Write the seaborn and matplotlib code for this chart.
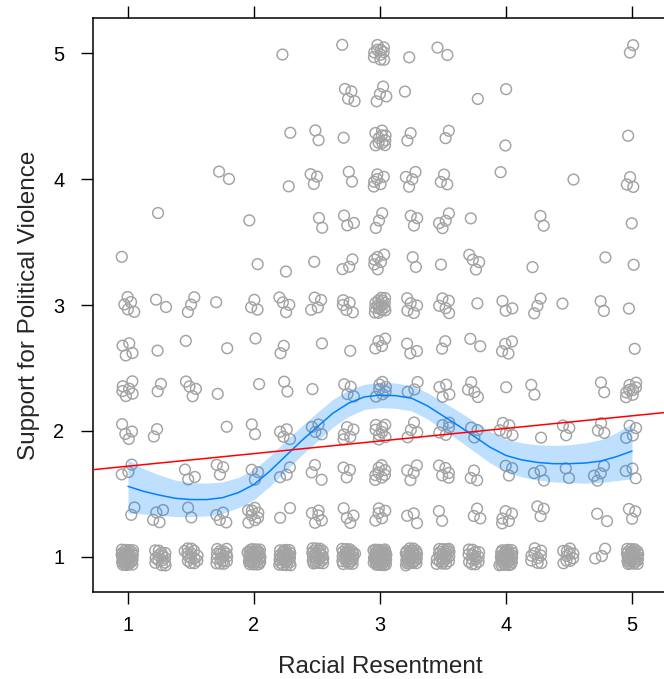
import numpy as np
import pandas as pd
import matplotlib
matplotlib.use("Agg")
import matplotlib.pyplot as plt
import seaborn as sns

# ---------------- data ----------------
# Racial resentment levels (x) and support-for-violence levels (y)
x_levels = [1.0, 1.25, 1.5, 1.75, 2.0, 2.25, 2.5, 2.75, 3.0,
            3.25, 3.5, 3.75, 4.0, 4.25, 4.5, 4.75, 5.0]
y_levels = [1.0, 4/3, 5/3, 2.0, 7/3, 8/3, 3.0, 10/3, 11/3, 4.0, 13/3, 14/3, 5.0]

# number of respondents at each x level, one list per y level
count_y_1_00 = [30, 14, 14, 16, 30, 26, 22, 24, 40, 26, 22, 14, 30, 9, 10, 3, 26]
count_y_1_33 = [2, 4, 2, 4, 8, 2, 5, 4, 5, 3, 2, 3, 5, 3, 0, 2, 3]
count_y_1_67 = [3, 0, 3, 3, 3, 3, 3, 3, 8, 4, 5, 3, 3, 3, 2, 4, 3]
count_y_2_00 = [4, 2, 0, 1, 2, 4, 4, 5, 8, 4, 5, 3, 5, 1, 3, 3, 4]
count_y_2_33 = [6, 2, 4, 1, 1, 2, 1, 4, 7, 3, 4, 4, 1, 2, 0, 2, 8]
count_y_2_67 = [4, 1, 1, 1, 1, 2, 1, 1, 4, 3, 2, 2, 4, 0, 0, 0, 1]
count_y_3_00 = [5, 2, 3, 1, 3, 4, 4, 5, 15, 5, 5, 1, 3, 3, 1, 2, 1]
count_y_3_33 = [1, 0, 0, 0, 1, 1, 1, 3, 6, 2, 1, 4, 0, 1, 0, 1, 1]
count_y_3_67 = [0, 1, 0, 0, 1, 0, 2, 3, 3, 3, 4, 1, 0, 2, 0, 0, 1]
count_y_4_00 = [0, 0, 0, 2, 0, 1, 3, 2, 6, 4, 3, 0, 1, 0, 1, 0, 3]
count_y_4_33 = [0, 0, 0, 0, 0, 1, 2, 1, 10, 2, 2, 0, 1, 0, 0, 0, 1]
count_y_4_67 = [0, 0, 0, 0, 0, 0, 0, 4, 4, 1, 0, 1, 1, 0, 0, 0, 0]
count_y_5_00 = [0, 0, 0, 0, 0, 1, 0, 1, 10, 1, 2, 0, 0, 0, 0, 0, 2]

count_rows = [count_y_1_00, count_y_1_33, count_y_1_67, count_y_2_00,
              count_y_2_33, count_y_2_67, count_y_3_00, count_y_3_33,
              count_y_3_67, count_y_4_00, count_y_4_33, count_y_4_67,
              count_y_5_00]

# loess smooth with its confidence band
smooth_x = [1.0, 1.125, 1.25, 1.375, 1.5, 1.625, 1.75, 1.875, 2.0, 2.125,
            2.25, 2.375, 2.5, 2.625, 2.75, 2.875, 3.0, 3.125, 3.25, 3.375,
            3.5, 3.625, 3.75, 3.875, 4.0, 4.125, 4.25, 4.375, 4.5, 4.625,
            4.75, 4.875, 5.0]
smooth_fit = [1.56, 1.52, 1.49, 1.465, 1.455, 1.455, 1.47, 1.51, 1.575, 1.68,
              1.80, 1.92, 2.03, 2.14, 2.22, 2.27, 2.285, 2.28, 2.26, 2.20,
              2.12, 2.04, 1.955, 1.87, 1.805, 1.77, 1.75, 1.74, 1.74, 1.745,
              1.76, 1.795, 1.84]
smooth_halfwidth = [0.21, 0.18, 0.16, 0.145, 0.135, 0.13, 0.125, 0.12, 0.12, 0.12,
                    0.12, 0.115, 0.115, 0.11, 0.105, 0.10, 0.10, 0.10, 0.10, 0.105,
                    0.11, 0.115, 0.12, 0.125, 0.13, 0.135, 0.14, 0.145, 0.15, 0.16,
                    0.17, 0.19, 0.22]

# linear regression line
reg_intercept = 1.62
reg_slope = 0.10

x_label = "Racial Resentment"
y_label = "Support for Political Violence"
x_ticks = [1, 2, 3, 4, 5]
y_ticks = [1, 2, 3, 4, 5]

# ---------------- build jittered point table ----------------
rec_x, rec_y = [], []
k = 0
for yv, row in zip(y_levels, count_rows):
    for xv, n in zip(x_levels, row):
        for _ in range(n):
            k += 1
            u = (0.5 + k * 0.7548776662466927) % 1.0
            v = (0.5 + k * 0.5698402909980532) % 1.0
            rec_x.append(xv + (2 * u - 1) * 0.052)
            rec_y.append(yv + (2 * v - 1) * 0.068)
pts = pd.DataFrame({"resent": rec_x, "violence": rec_y})
smooth = pd.DataFrame({"x": smooth_x, "fit": smooth_fit})

# ---------------- figure ----------------
sns.set_style("white")
plt.rcParams["font.family"] = ["Liberation Sans", "DejaVu Sans"]

fig = plt.figure(figsize=(6.64, 6.79), dpi=100)
ax = fig.add_axes([93 / 664, 87 / 679, 574 / 664, 574 / 679])

sns.scatterplot(data=pts, x="resent", y="violence", ax=ax, marker="o",
                s=60, fc="none", ec="#A3A3A3", linewidth=1.05, zorder=2,
                legend=False)

lo = np.array(smooth_fit) - np.array(smooth_halfwidth)
hi = np.array(smooth_fit) + np.array(smooth_halfwidth)
ax.fill_between(smooth_x, lo, hi, color="#0080FF", alpha=0.25, lw=0, zorder=3)
sns.lineplot(data=smooth, x="x", y="fit", ax=ax, color="#0080FF", lw=1.1,
             zorder=4)
ax.axline((0, reg_intercept), slope=reg_slope, color="#FF0000", lw=1.1, zorder=5)

ax.set_xlim(0.722, 5.278)
ax.set_ylim(0.721, 5.279)
ax.set_xticks(x_ticks)
ax.set_yticks(y_ticks)
ax.set_xticklabels([str(t) for t in x_ticks])
ax.set_yticklabels([str(t) for t in y_ticks])
ax.set_xlabel("")
ax.set_ylabel("")

for sp in ax.spines.values():
    sp.set_color("black")
    sp.set_linewidth(1.1)
ax.tick_params(axis="x", which="both", direction="out", length=8.6, width=1.0,
               colors="black", labelsize=14.4, pad=9.0, top=True,
               labeltop=False, bottom=True)
ax.tick_params(axis="y", which="both", direction="out", length=8.6, width=1.0,
               colors="black", labelsize=14.4, pad=12.0, left=True,
               right=True, labelright=False)

fig.text(380 / 664, (679 - 673) / 679, x_label, ha="center", va="baseline",
         fontsize=17.5)
fig.text(29 / 664, 1 - 305 / 679, y_label, ha="center", va="center",
         rotation=90, fontsize=17.5)

fig.savefig("out.png", dpi=100)
